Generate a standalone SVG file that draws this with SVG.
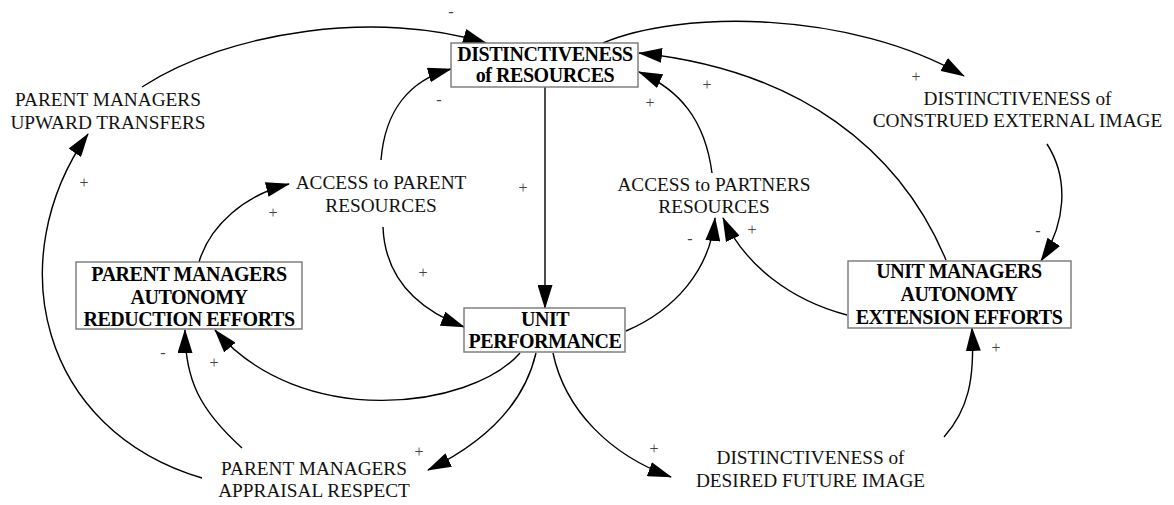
<svg xmlns="http://www.w3.org/2000/svg" width="1174" height="505" viewBox="0 0 1174 505">
<style>
.bg{fill:#ffffff}
.box{fill:#ffffff;stroke:#777777;stroke-width:1.4}
.bt{font-family:"Liberation Serif","Times New Roman",serif;font-weight:bold;font-size:20px;letter-spacing:-0.45px;fill:#000;text-anchor:middle}
.t{font-family:"Liberation Serif","Times New Roman",serif;font-size:19.3px;fill:#111;text-anchor:middle}
.lk{fill:none;stroke:#000;stroke-width:1.4;marker-end:url(#ah)}
.pl{font-family:"Liberation Serif","Times New Roman",serif;font-size:16px;fill:#444;text-anchor:middle}
</style>
<defs>
<marker id="ah" markerUnits="userSpaceOnUse" markerWidth="24" markerHeight="15" viewBox="0 0 24 15" refX="23" refY="7.5" orient="auto">
<path d="M0,0 L24,7.5 L0,15 z" fill="#000"/>
</marker>
</defs>
<rect class="bg" x="0" y="0" width="1174" height="505"/>
<g id="connectors">
<path class="lk" d="M142,87 C230,30 380,10 486,43"/>
<path class="lk" d="M381,160 C385,110 410,80 451,69"/>
<path class="lk" d="M383,227 C385,280 420,310 464,327"/>
<path class="lk" d="M199,262 C210,225 245,195 289,184"/>
<path class="lk" d="M520,353 C470,410 300,430 215,330"/>
<path class="lk" d="M242,448 C200,410 185,380 185,330"/>
<path class="lk" d="M202,478 C40,430 0,260 88,134"/>
<path class="lk" d="M536,353 C525,400 490,440 428,470"/>
<path class="lk" d="M553,353 C565,410 610,455 671,477"/>
<path class="lk" d="M545,87 L545,308"/>
<path class="lk" d="M626,331 C675,310 710,270 715,218"/>
<path class="lk" d="M847,315 C790,300 745,265 723,218"/>
<path class="lk" d="M712,173 C705,120 680,90 639,72"/>
<path class="lk" d="M946,260 C900,150 800,70 639,53"/>
<path class="lk" d="M603,43 C680,10 850,10 964,76"/>
<path class="lk" d="M1047,144 C1070,180 1065,225 1041,261"/>
<path class="lk" d="M944,437 C968,410 975,380 972,328"/>
<text class="pl" x="451" y="17">-</text>
<text class="pl" x="439" y="105">-</text>
<text class="pl" x="423" y="278">+</text>
<text class="pl" x="273" y="218">+</text>
<text class="pl" x="214" y="368">+</text>
<text class="pl" x="163" y="358">-</text>
<text class="pl" x="84" y="188">+</text>
<text class="pl" x="419" y="457">+</text>
<text class="pl" x="654" y="454">+</text>
<text class="pl" x="523" y="193">+</text>
<text class="pl" x="690" y="244">-</text>
<text class="pl" x="752" y="235">+</text>
<text class="pl" x="650" y="108">+</text>
<text class="pl" x="707" y="90">+</text>
<text class="pl" x="916" y="82">+</text>
<text class="pl" x="1038" y="236">-</text>
<text class="pl" x="996" y="353">+</text>
</g>
<g id="dist-resources">
<rect class="box" x="451" y="43" width="187" height="44"/>
<text class="bt" x="545" y="61">DISTINCTIVENESS</text>
<text class="bt" x="545" y="82">of RESOURCES</text>
</g>
<g id="pm-upward-transfers">
<text class="t" x="108" y="106">PARENT MANAGERS</text>
<text class="t" x="108" y="129">UPWARD TRANSFERS</text>
</g>
<g id="access-parent">
<text class="t" x="381" y="189">ACCESS to PARENT</text>
<text class="t" x="381" y="211.5">RESOURCES</text>
</g>
<g id="access-partners">
<text class="t" x="714" y="191">ACCESS to PARTNERS</text>
<text class="t" x="714" y="213">RESOURCES</text>
</g>
<g id="construed-image">
<text class="t" x="1017.5" y="105">DISTINCTIVENESS of</text>
<text class="t" x="1017.5" y="127">CONSTRUED EXTERNAL IMAGE</text>
</g>
<g id="pm-autonomy-reduction">
<rect class="box" x="76" y="262" width="226" height="67"/>
<text class="bt" x="189" y="281">PARENT MANAGERS</text>
<text class="bt" x="189" y="303.5">AUTONOMY</text>
<text class="bt" x="189" y="326">REDUCTION EFFORTS</text>
</g>
<g id="unit-performance">
<rect class="box" x="464" y="308" width="161" height="44"/>
<text class="bt" x="545" y="326">UNIT</text>
<text class="bt" x="545" y="348">PERFORMANCE</text>
</g>
<g id="um-autonomy-extension">
<rect class="box" x="848" y="261" width="223" height="67"/>
<text class="bt" x="959" y="277.5">UNIT MANAGERS</text>
<text class="bt" x="959" y="300.5">AUTONOMY</text>
<text class="bt" x="959" y="323.5">EXTENSION EFFORTS</text>
</g>
<g id="pm-appraisal-respect">
<text class="t" x="314" y="475">PARENT MANAGERS</text>
<text class="t" x="314" y="497">APPRAISAL RESPECT</text>
</g>
<g id="desired-future-image">
<text class="t" x="810.5" y="464">DISTINCTIVENESS of</text>
<text class="t" x="810.5" y="487">DESIRED FUTURE IMAGE</text>
</g>
</svg>
